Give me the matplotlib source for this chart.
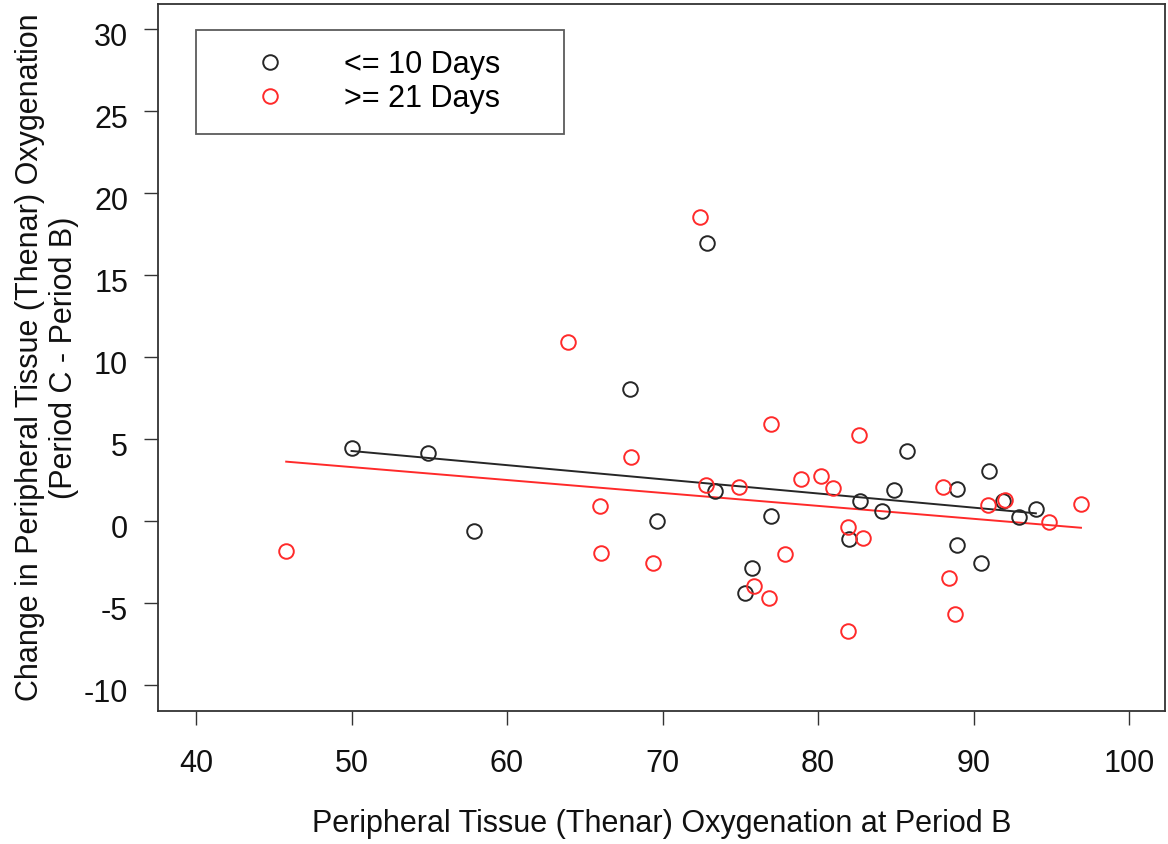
import matplotlib
matplotlib.use("Agg")
import matplotlib.pyplot as plt
from matplotlib.lines import Line2D
from matplotlib.transforms import ScaledTranslation

plt.rcParams['font.family'] = ['Liberation Sans', 'DejaVu Sans']
plt.rcParams['axes.unicode_minus'] = False

# <= 10 Days group
short_x = [50.0, 54.9, 57.9, 67.9, 69.65, 72.86, 73.4, 76.98, 75.76, 75.3, 82.0,
           82.7, 84.1, 85.7, 84.9, 88.9, 91.0, 91.9, 92.9, 94.0, 88.95, 90.5]
short_y = [4.45, 4.1, -0.6, 8.0, 0.0, 16.95, 1.83, 0.3, -2.87, -4.4, -1.1,
           1.2, 0.6, 4.27, 1.9, 1.95, 3.0, 1.2, 0.2, 0.73, -1.5, -2.6]

# >= 21 Days group
long_x = [45.8, 72.4, 63.9, 67.97, 66.0, 66.05, 69.4, 72.8, 74.9, 76.98, 78.9,
          80.2, 80.96, 82.6, 77.9, 75.9, 76.85, 81.9, 82.9, 81.9, 88.0, 90.9,
          92.0, 94.85, 96.9, 88.4, 88.8]
long_y = [-1.83, 18.5, 10.9, 3.9, 0.9, -1.97, -2.6, 2.2, 2.07, 5.9, 2.55,
          2.7, 1.97, 5.24, -2.0, -3.96, -4.7, -0.37, -1.03, -6.7, 2.07, 0.98,
          1.28, -0.06, 1.04, -3.5, -5.7]

# fitted trend lines (endpoints)
short_fit_x = [50.0, 94.0]
short_fit_y = [4.25, 0.45]
long_fit_x = [45.8, 96.9]
long_fit_y = [3.6, -0.43]

labels = ["<= 10 Days", ">= 21 Days"]
xticks = [40, 50, 60, 70, 80, 90, 100]
yticks = [-10, -5, 0, 5, 10, 15, 20, 25, 30]

BLACK = "#262626"
RED = "#ff2a2a"
FS = 22

fig = plt.figure(figsize=(11.68, 8.44), dpi=100)
ax = fig.add_axes([0.1353, 0.1576, 0.9974 - 0.1353, 0.9953 - 0.1576])

ax.plot(short_fit_x, short_fit_y, color=BLACK, lw=1.4)
ax.plot(long_fit_x, long_fit_y, color=RED, lw=1.4)
ax.plot(short_x, short_y, 'o', mfc='none', mec=BLACK, ms=10.5, mew=1.4, ls='none')
ax.plot(long_x, long_y, 'o', mfc='none', mec=RED, ms=10.5, mew=1.4, ls='none')

ax.set_xlim(37.56, 102.3)
ax.set_ylim(-11.6, 31.5)
ax.set_xticks(xticks)
ax.set_yticks(yticks)
ax.tick_params(axis='both', direction='out', length=10, width=1.0, color='#333333',
               labelsize=FS, labelcolor='#111111')
ax.tick_params(axis='x', pad=17.5)
ax.tick_params(axis='y', pad=11.5)
off = ScaledTranslation(0, -6 / 100, fig.dpi_scale_trans)
for lab in ax.get_yticklabels():
    lab.set_transform(lab.get_transform() + off)
for s in ax.spines.values():
    s.set_color('#333333')
    s.set_linewidth(1.3)

ax.set_xlabel("Peripheral Tissue (Thenar) Oxygenation at Period B", fontsize=FS,
              color='#111111')
ax.xaxis.set_label_coords(0.5, -0.139)
ax.set_ylabel("Change in Peripheral Tissue (Thenar) Oxygenation\n(Period C - Period B)",
              fontsize=FS, color='#111111', linespacing=1.17)
ax.yaxis.set_label_coords(-0.0785, 0.5)

handles = [Line2D([], [], marker='o', ls='none', mfc='none', mec=BLACK, ms=10.5, mew=1.4),
           Line2D([], [], marker='o', ls='none', mfc='none', mec=RED, ms=10.5, mew=1.4)]
leg = ax.legend(handles, labels, loc='upper left',
                bbox_to_anchor=(0.0377, 0.5, 0.3654, 0.4632), mode='expand',
                fontsize=FS, frameon=True, fancybox=False, borderpad=0.65,
                handletextpad=0.65, handlelength=3.56, labelspacing=0.13,
                borderaxespad=0)
leg.get_frame().set_edgecolor('#333333')
leg.get_frame().set_linewidth(1.3)

fig.savefig("out.png", dpi=100)
